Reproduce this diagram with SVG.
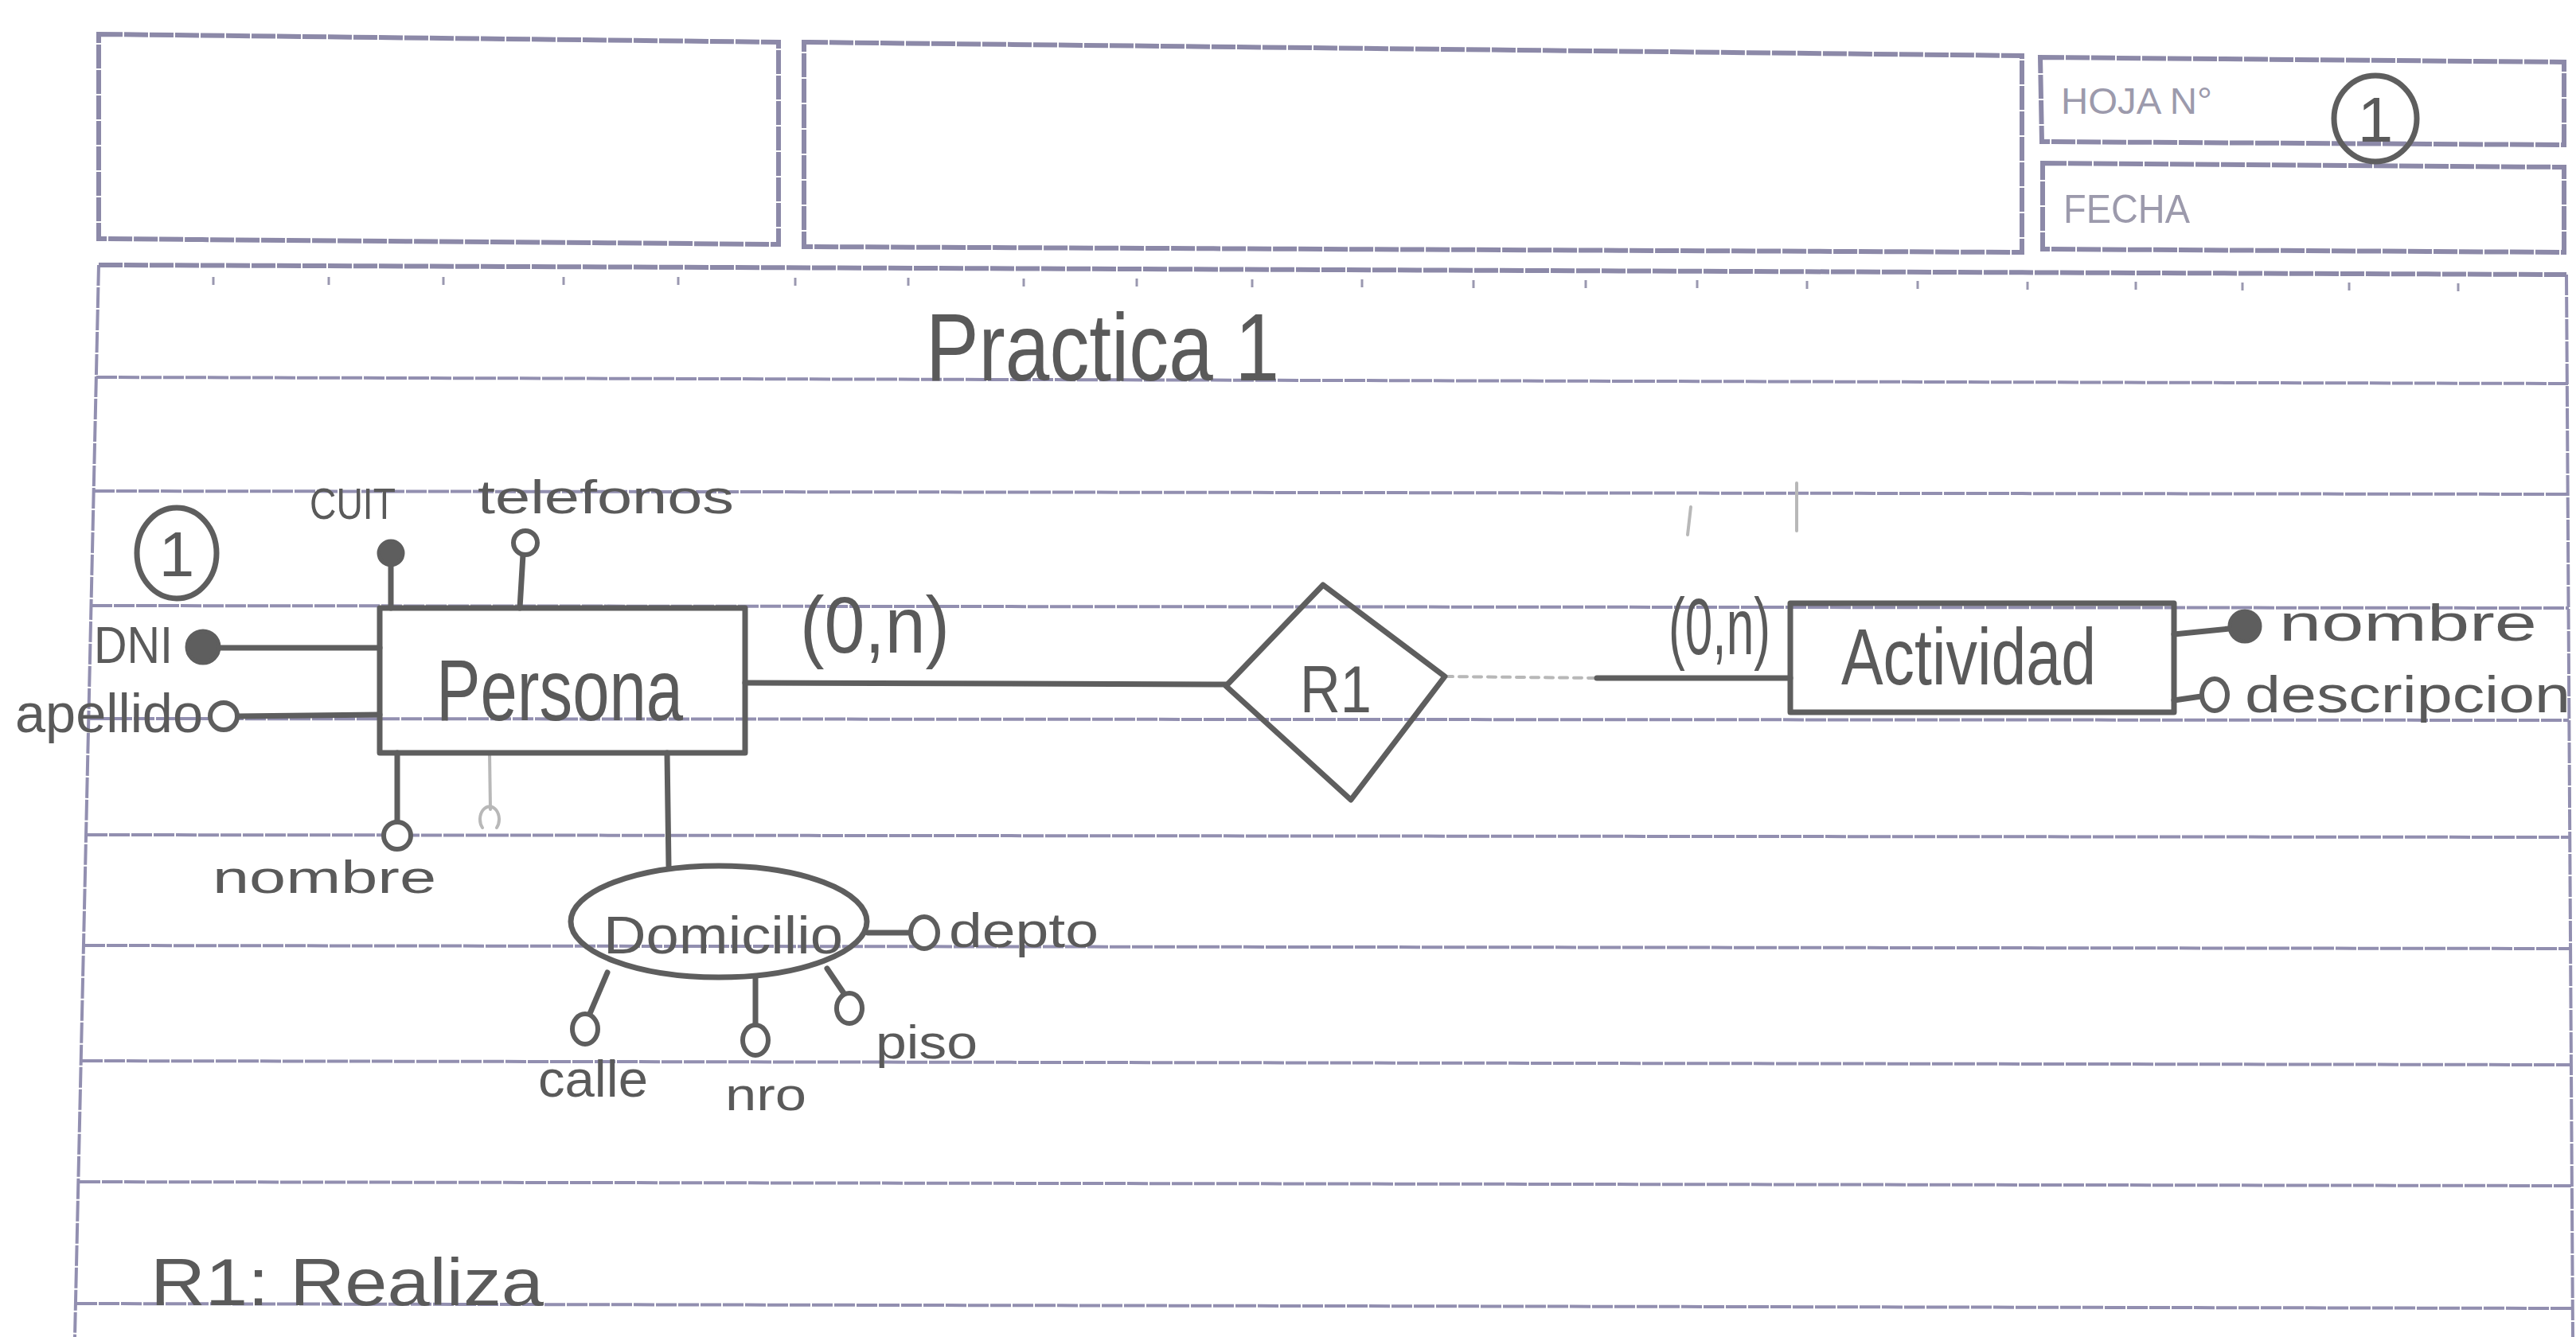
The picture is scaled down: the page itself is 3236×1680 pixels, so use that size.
<svg xmlns="http://www.w3.org/2000/svg" width="3236" height="1680" viewBox="0 0 3236 1680">
<style>
.rule{stroke:#928fb0;stroke-width:4;fill:none;stroke-dasharray:26 2}
.rulethick{stroke:#8c89a8;stroke-width:6;fill:none;stroke-dasharray:30 2}
.tick{stroke:#9a98b0;stroke-width:3}
.pen{stroke:#5e5e5e;stroke-width:7;fill:none;stroke-linecap:round;stroke-linejoin:round}
.faint{stroke:#b8b8b8;stroke-width:4;fill:none;stroke-linecap:round}
.dot{fill:#5e5e5e;stroke:#5e5e5e;stroke-width:5}
.open{fill:#ffffff;stroke:#5e5e5e;stroke-width:6}
.hw{font-family:"Liberation Sans","DejaVu Sans",sans-serif;fill:#5a5a5a}
.print{font-family:"Liberation Sans","DejaVu Sans",sans-serif;fill:#9c9aac}
</style>
<rect x="0" y="0" width="3236" height="1680" fill="#ffffff"/>

<g id="paper">
  <path class="rulethick" d="M124 43 L978 53 L978 307 L124 300 Z"/>
  <path class="rulethick" d="M1010 53 L2540 70 L2540 317 L1010 310 Z"/>
  <path class="rulethick" d="M2563 72 L3221 78 L3221 182 L2565 178 Z"/>
  <path class="rulethick" d="M2566 205 L3221 210 L3221 317 L2566 313 Z"/>
  <text class="print" x="2589" y="143" font-size="46" textLength="190" lengthAdjust="spacingAndGlyphs">HOJA N°</text>
  <text class="print" x="2592" y="280" font-size="50" textLength="159" lengthAdjust="spacingAndGlyphs">FECHA</text>
  <line class="rule" x1="124" y1="333" x2="94" y2="1680"/>
  <line class="rule" x1="3224" y1="345" x2="3232" y2="1680"/>
  <line class="rulethick" x1="124" y1="333" x2="3224" y2="345"/>
  <g class="tick">
    <line x1="268" y1="348" x2="268" y2="358"/><line x1="413" y1="348" x2="413" y2="358"/>
    <line x1="557" y1="348" x2="557" y2="358"/><line x1="708" y1="348" x2="708" y2="358"/>
    <line x1="852" y1="348" x2="852" y2="358"/><line x1="999" y1="349" x2="999" y2="359"/>
    <line x1="1141" y1="349" x2="1141" y2="359"/><line x1="1286" y1="350" x2="1286" y2="360"/>
    <line x1="1428" y1="350" x2="1428" y2="360"/><line x1="1573" y1="351" x2="1573" y2="361"/>
    <line x1="1711" y1="351" x2="1711" y2="361"/><line x1="1851" y1="352" x2="1851" y2="362"/>
    <line x1="1992" y1="352" x2="1992" y2="362"/><line x1="2132" y1="352" x2="2132" y2="362"/>
    <line x1="2270" y1="353" x2="2270" y2="363"/><line x1="2409" y1="353" x2="2409" y2="363"/>
    <line x1="2547" y1="354" x2="2547" y2="364"/><line x1="2683" y1="354" x2="2683" y2="364"/>
    <line x1="2817" y1="355" x2="2817" y2="365"/><line x1="2951" y1="355" x2="2951" y2="365"/>
    <line x1="3088" y1="356" x2="3088" y2="366"/>
  </g>
  <line class="rule" x1="121" y1="474" x2="3226" y2="482"/>
  <line class="rule" x1="118" y1="617" x2="3226" y2="621"/>
  <line class="rule" x1="115" y1="761" x2="3227" y2="764"/>
  <line class="rule" x1="112" y1="903" x2="3227" y2="905"/>
  <line class="rule" x1="109" y1="1049" x2="3228" y2="1052"/>
  <line class="rule" x1="106" y1="1188" x2="3229" y2="1192"/>
  <line class="rule" x1="103" y1="1333" x2="3230" y2="1338"/>
  <line class="rule" x1="100" y1="1485" x2="3230" y2="1490"/>
  <line class="rule" x1="96" y1="1638" x2="3231" y2="1644"/>
  <line class="faint" x1="2124" y1="637" x2="2120" y2="672"/>
  <line class="faint" x1="2257" y1="607" x2="2257" y2="667"/>
</g>

<g id="title">
  <text class="hw" x="1163" y="478" font-size="120" textLength="444" lengthAdjust="spacingAndGlyphs">Practica 1</text>
</g>

<g id="sheet-number">
  <ellipse class="pen" cx="2984" cy="149" rx="52" ry="54"/>
  <text class="hw" x="2984" y="178" font-size="80" text-anchor="middle">1</text>
</g>

<g id="exercise-number">
  <ellipse class="pen" cx="222" cy="695" rx="50" ry="57"/>
  <text class="hw" x="222" y="724" font-size="80" text-anchor="middle">1</text>
</g>

<g id="connectors">
  <line class="pen" x1="276" y1="814" x2="477" y2="814"/>
  <line class="pen" x1="298" y1="900" x2="477" y2="898"/>
  <line class="pen" x1="491" y1="711" x2="491" y2="764"/>
  <line class="pen" x1="657" y1="697" x2="653" y2="764"/>
  <line class="pen" x1="499" y1="946" x2="499" y2="1033"/>
  <line class="faint" x1="615" y1="946" x2="616" y2="1017"/>
  <line class="pen" x1="838" y1="946" x2="840" y2="1088"/>
  <line class="pen" x1="936" y1="858" x2="1540" y2="860"/>
  <line class="faint" x1="1815" y1="850" x2="2006" y2="852" stroke-dasharray="10 8"/>
  <line class="pen" x1="2006" y1="852" x2="2249" y2="852"/>
  <line class="pen" x1="2731" y1="797" x2="2800" y2="790"/>
  <line class="pen" x1="2731" y1="880" x2="2765" y2="875"/>
  <line class="pen" x1="1090" y1="1172" x2="1143" y2="1172"/>
  <line class="pen" x1="763" y1="1222" x2="740" y2="1276"/>
  <line class="pen" x1="949" y1="1230" x2="949" y2="1290"/>
  <line class="pen" x1="1039" y1="1217" x2="1062" y2="1251"/>
</g>

<g id="persona">
  <rect class="pen" x="477" y="764" width="459" height="182"/>
  <text class="hw" x="548" y="905" font-size="110" textLength="310" lengthAdjust="spacingAndGlyphs">Persona</text>
</g>

<g id="attr-dni">
  <circle class="dot" cx="255" cy="813" r="20"/>
  <text class="hw" x="118" y="833" font-size="64" textLength="99" lengthAdjust="spacingAndGlyphs">DNI</text>
</g>
<g id="attr-apellido">
  <circle class="open" cx="281" cy="900" r="17"/>
  <text class="hw" x="19" y="920" font-size="68" textLength="236" lengthAdjust="spacingAndGlyphs">apellido</text>
</g>
<g id="attr-cuit">
  <circle class="dot" cx="491" cy="695" r="15"/>
  <text class="hw" x="389" y="652" font-size="56" textLength="108" lengthAdjust="spacingAndGlyphs">CUIT</text>
</g>
<g id="attr-telefonos">
  <circle class="open" cx="660" cy="682" r="15"/>
  <text class="hw" x="600" y="645" font-size="60" textLength="322" lengthAdjust="spacingAndGlyphs">telefonos</text>
</g>
<g id="attr-nombre-persona">
  <circle class="open" cx="499" cy="1050" r="17"/>
  <text class="hw" x="267" y="1122" font-size="58" textLength="281" lengthAdjust="spacingAndGlyphs">nombre</text>
</g>
<g id="attr-erased">
  <path class="faint" d="M606 1040 A12 16 0 1 1 624 1040"/>
</g>

<g id="domicilio">
  <ellipse class="pen" cx="903" cy="1158" rx="186" ry="70"/>
  <text class="hw" x="758" y="1198" font-size="66" textLength="301" lengthAdjust="spacingAndGlyphs">Domicilio</text>
</g>
<g id="attr-depto">
  <ellipse class="open" cx="1161" cy="1172" rx="17" ry="20"/>
  <text class="hw" x="1192" y="1190" font-size="62" textLength="188" lengthAdjust="spacingAndGlyphs">depto</text>
</g>
<g id="attr-calle">
  <ellipse class="open" cx="735" cy="1293" rx="16" ry="19"/>
  <text class="hw" x="676" y="1378" font-size="64" textLength="138" lengthAdjust="spacingAndGlyphs">calle</text>
</g>
<g id="attr-nro">
  <ellipse class="open" cx="949" cy="1307" rx="16" ry="19"/>
  <text class="hw" x="911" y="1395" font-size="58" textLength="102" lengthAdjust="spacingAndGlyphs">nro</text>
</g>
<g id="attr-piso">
  <ellipse class="open" cx="1067" cy="1267" rx="16" ry="19"/>
  <text class="hw" x="1100" y="1330" font-size="60" textLength="128" lengthAdjust="spacingAndGlyphs">piso</text>
</g>

<g id="r1">
  <polygon class="pen" points="1662,735 1815,850 1697,1005 1540,862"/>
  <text class="hw" x="1633" y="895" font-size="84" textLength="90" lengthAdjust="spacingAndGlyphs">R1</text>
</g>
<g id="card-persona">
  <text class="hw" x="1005" y="820" font-size="100" textLength="188" lengthAdjust="spacingAndGlyphs">(0,n)</text>
</g>
<g id="card-actividad">
  <text class="hw" x="2096" y="822" font-size="100" textLength="128" lengthAdjust="spacingAndGlyphs">(0,n)</text>
</g>

<g id="actividad">
  <rect class="pen" x="2249" y="758" width="482" height="137"/>
  <text class="hw" x="2313" y="860" font-size="100" textLength="320" lengthAdjust="spacingAndGlyphs">Actividad</text>
</g>
<g id="attr-nombre-actividad">
  <circle class="dot" cx="2820" cy="787" r="19"/>
  <text class="hw" x="2863" y="805" font-size="64" textLength="324" lengthAdjust="spacingAndGlyphs">nombre</text>
</g>
<g id="attr-descripcion">
  <ellipse class="open" cx="2782" cy="873" rx="16" ry="20"/>
  <text class="hw" x="2820" y="895" font-size="64" textLength="409" lengthAdjust="spacingAndGlyphs">descripcion</text>
</g>

<g id="note">
  <text class="hw" x="189" y="1640" font-size="84" textLength="494" lengthAdjust="spacingAndGlyphs">R1: Realiza</text>
</g>
</svg>
